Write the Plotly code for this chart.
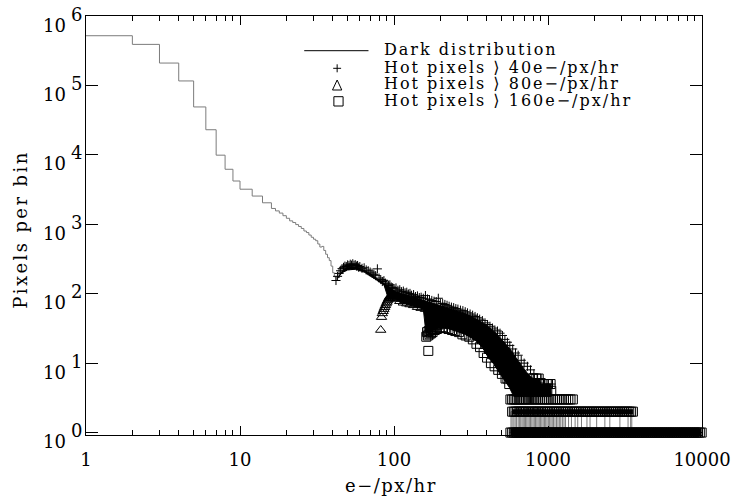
import plotly.graph_objects as go

# ---------------- data ----------------
# Dark distribution histogram: left bin edges and counts per bin
dark_x = [1, 2, 3, 4, 5, 6, 7, 8, 9, 10, 12, 14, 16, 17, 18, 19, 20, 21, 22, 23, 24,
          25, 26, 27, 28, 29, 30, 31, 32, 33, 34, 35, 36, 37, 38, 39, 40, 41, 42]
dark_counts = [5.2e5, 3.9e5, 2.1e5, 1.16e5, 4.9e4, 2.3e4, 9.9e3, 6.2e3, 4.2e3, 3.2e3,
               2.55e3, 2.04e3, 1690, 1560, 1450, 1330, 1220, 1120, 1060, 990, 930,
               870, 800, 760, 700, 650, 610, 580, 520, 470, 480, 420, 370, 330, 300,
               250, 200, 175, 155]

# Dark distribution, sparse high tail (counts jumping between 1 and 2)
dark_tail_x = [560, 575, 585, 600, 612, 625, 640, 652, 665, 678, 690, 702, 715, 728, 742,
               756, 770, 785, 800, 815, 830, 846, 862, 878, 895, 912, 930, 948, 966, 985,
               1005, 1025, 1045, 1065, 1085, 1110, 1135, 1160, 1185, 1210, 1240, 1270,
               1300, 1360, 1420, 1500, 1560, 1650, 1790, 1875, 2070, 2340, 2520, 2930,
               3310, 3440, 3500]
dark_tail_y = [1, 2, 1, 2, 1, 2, 1, 2, 1, 2, 1, 2, 1, 2, 1, 2, 1, 2, 1, 2, 1, 2, 1, 2, 1,
               2, 1, 2, 1, 2, 1, 2, 1, 2, 1, 2, 1, 2, 1, 2, 1, 2, 1, 2, 1, 2, 1, 2, 1, 2,
               1, 2, 1, 2, 1, 2, 1]

# Hot pixels > 40 e-/px/hr
h40_x = [42, 43, 44, 45, 46, 47, 48, 49, 50, 51, 52, 53, 54, 55, 56, 57, 58, 59, 60,
         62, 64, 66, 68, 70, 72, 74, 76, 78, 80, 82, 84, 86, 88, 90, 92, 94, 96, 98, 100,
         103, 106, 109, 112, 115, 118, 121, 124, 127, 130,
         134, 138, 142, 146, 150, 155, 160, 165, 170, 176, 182, 188, 194, 200,
         207, 214, 221, 228, 236, 244, 252, 260, 270, 280, 290, 300,
         312, 324, 336, 348, 360, 375, 390, 405, 420,
         436, 452, 470, 488, 506, 525, 545, 565, 590, 615, 640, 670, 700, 735, 770,
         810, 850, 900, 950, 1000, 1050]
h40_y = [155, 178, 196, 214, 230, 240, 250, 246, 260, 254, 266, 258, 270, 256, 262, 250,
         255, 240, 246,
         232, 236, 220, 214, 205, 198, 190, 182, 228, 168, 160, 150, 154, 142, 138, 131,
         134, 125, 122, 118,
         121, 112, 114, 107, 109, 103, 105, 99, 101, 95,
         97, 91, 93, 88, 89, 86, 94, 84, 82, 80, 78, 77, 86, 73,
         72, 70, 68, 66, 64, 63, 61, 60, 58, 57, 55, 53,
         51, 49, 47, 45, 43, 41, 38, 36, 34,
         32, 30, 29, 27, 25, 22, 20, 18, 16, 14, 13, 11, 10, 9, 8, 7, 6, 6, 5, 5, 5]

# Hot pixels > 80 e-/px/hr
h80_x = [82, 83, 84, 85, 86, 87, 88, 89, 90, 91, 92, 93, 94, 95, 96, 98, 100,
         103, 106, 109, 112, 115, 118, 121, 124, 127, 130,
         134, 138, 142, 146, 150, 155, 160, 165, 170, 176, 182, 188, 194, 200,
         210, 220, 230, 240, 250, 262, 275, 288, 300, 315, 330, 345, 360,
         380, 400, 420, 440, 460, 480, 500, 520, 540, 560,
         585, 610, 640, 670, 700, 740, 780, 830]
h80_y = [30, 46, 52, 56, 60, 64, 68, 72, 76, 80, 84, 88, 92, 86, 94, 88, 92,
         84, 88, 78, 84, 74, 80, 72, 78, 70, 76,
         68, 72, 64, 70, 62, 68, 60, 64, 58, 62, 56, 59, 54, 56,
         52, 53, 49, 50, 46, 46, 43, 42, 39, 38, 35, 33, 31,
         28, 26, 23, 21, 19, 17, 15, 13, 12, 10,
         9, 8, 7, 6, 5, 5, 4, 4]

# Hot pixels > 160 e-/px/hr
h160_x = [162, 164, 166, 167, 168, 170, 172, 174, 176, 178,
          181, 184, 187, 190, 194, 198, 202, 206, 210, 215,
          220, 226, 232, 238, 244, 250, 257, 264, 271, 278,
          285, 292, 300, 308, 316, 325, 334, 343, 352, 362,
          372, 382, 392, 402, 414, 426, 438, 450, 462, 475,
          488, 502, 516, 530, 545, 560]
h160_y = [24, 28, 25, 15, 29, 26, 30, 27, 31, 28,
          33, 30, 35, 31, 36, 32, 38, 33, 37, 32,
          38, 31, 37, 30, 36, 29, 35, 28, 34, 26,
          32, 25, 31, 24, 29, 22, 27, 19, 25, 17,
          22, 14, 19, 12, 16, 10, 14, 9, 12, 8,
          10, 7, 8, 6, 6, 5]

# Envelope of the dense cloud of overlapping hot-pixel markers (solid black band)
band_top_x = [43, 46, 50, 54, 58, 64, 70, 76, 82, 88, 94, 100, 110, 120, 135, 150, 170,
              190, 210, 240, 270, 300, 340, 380, 420, 460, 500, 540, 580, 620, 660, 700,
              740, 800, 870, 900, 1040, 1050]
band_top_y = [165, 210, 240, 245, 235, 218, 195, 172, 152, 134, 122, 110, 102, 96, 88,
              82, 76, 71, 66, 60, 55, 50, 43, 38, 32, 27, 22, 18, 15, 12, 10, 8.5, 7, 6,
              6, 5, 5, 3.3]
band_bot_x = [43, 46, 50, 56, 64, 72, 80, 86, 92, 100, 110, 125, 140, 155, 161, 170, 180,
              200, 230, 260, 290, 320, 350, 380, 410, 440, 470, 500, 530, 560, 600, 1050]
band_bot_y = [170, 200, 220, 225, 205, 170, 150, 135, 84, 86, 76, 70, 64, 60, 28, 27, 30,
              33, 31, 28, 26, 23, 20, 16, 12, 10, 8, 6.5, 5.5, 4.5, 3.3, 3.3]

# sparse tail of the hot-pixel histograms: bins holding 6, 5, 4, 3, 2 and 1 pixels
tail6_x = [760, 800, 840, 870]
tail5_x = [700, 760, 820, 880, 940, 1000, 1040]
tail4_x = [640, 690, 740, 790, 840, 890, 940, 990, 1050]
tail3_x = [570, 585, 600, 615, 630, 645, 660, 680, 700, 720, 740, 760, 785, 810, 835,
           860, 890, 920, 950, 980, 1010, 1045, 1080, 1115, 1150, 1190, 1230, 1270,
           1310, 1355, 1400, 1450]
tail1_x = [570, 585, 600, 615, 630, 645, 660, 675, 690, 705, 720, 740, 760, 780, 800,
           820, 840, 860, 880, 905, 930, 955, 980, 1005, 1030, 1060, 1090, 1120, 1150,
           1180, 1210, 1245, 1280, 1315, 1350, 1390, 1430, 1470, 1510, 1550, 1595, 1640,
           1685, 1730, 1780, 1830, 1880, 1935, 1990, 2045, 2100, 2160, 2220, 2285, 2350,
           2415, 2485, 2555, 2625, 2700, 2775, 2855, 2935, 3015, 3100, 3190, 3280, 3370,
           3465, 3560, 3660, 3765, 3870, 3980, 4090, 4205, 4325, 4445, 4570, 4700, 4830,
           4970, 5110, 5250, 5400, 5550, 5710, 5870, 6030, 6200, 6380, 6560, 6740, 6930,
           7130, 7330, 7530, 7750, 7960, 8190, 8420, 8650, 8900, 9150, 9410, 9680, 9950]
tail2_range = (580, 3600)
tail2_x = [v for v in tail1_x if tail2_range[0] <= v <= tail2_range[1]]

x_ticks = [1, 10, 100, 1000, 10000]
x_ticktext = ["1", "10", "100", "1000", "10000"]
y_exponents = [0, 1, 2, 3, 4, 5, 6]
minor_x = [m * d for d in (1, 10, 100, 1000) for m in range(2, 10)]

legend_labels = ["Dark distribution", "Hot pixels ⟩ 40e−/px/hr",
                 "Hot pixels ⟩ 80e−/px/hr", "Hot pixels ⟩ 160e−/px/hr"]
x_title = "e−/px/hr"
y_title = "Pixels per bin"

# ---------------- figure ----------------
FONT = "DejaVu Serif"
W, H = 743, 496
ML, MR, MT, MB = 86, 34, 16, 61
PW, PH = W - ML - MR, H - MT - MB


def pxx(p):
    return (p - ML) / PW


def pxy(p):
    return (H - MB - p) / PH


def spaced(t, sp):
    return f'<span style="letter-spacing:{sp}px">{t}</span>'


GRAY = "#7c7c7c"
fig = go.Figure()
fig.add_trace(go.Scatter(x=dark_x, y=dark_counts, mode="lines", line_shape="hv",
                         line=dict(color=GRAY, width=1), hoverinfo="skip"))
fig.add_trace(go.Scatter(x=dark_tail_x, y=dark_tail_y, mode="lines", line_shape="hv",
                         line=dict(color=GRAY, width=1), hoverinfo="skip"))

# dense overlapping markers rendered as a solid band
fig.add_trace(go.Scatter(x=band_top_x + band_bot_x[::-1],
                         y=band_top_y + band_bot_y[::-1],
                         mode="lines", fill="toself", fillcolor="black",
                         line=dict(color="black", width=1), hoverinfo="skip"))
# dense rows at 1 and 2 pixels per bin
fig.add_trace(go.Scatter(x=[tail1_x[0], tail1_x[-1]], y=[1, 1], mode="lines",
                         cliponaxis=False, line=dict(color="black", width=7),
                         hoverinfo="skip"))
fig.add_trace(go.Scatter(x=[tail2_x[0], tail2_x[-1]], y=[2, 2], mode="lines",
                         line=dict(color="black", width=5), hoverinfo="skip"))

sq_x = (h160_x + tail6_x + tail5_x + tail4_x + tail3_x + tail2_x + tail1_x)
sq_y = (h160_y + [6] * len(tail6_x) + [5] * len(tail5_x) + [4] * len(tail4_x)
        + [3] * len(tail3_x) + [2] * len(tail2_x) + [1] * len(tail1_x))

fig.add_trace(go.Scatter(x=h40_x, y=h40_y, mode="markers", cliponaxis=False,
                         marker=dict(symbol="cross-thin-open", size=6.5, color="black",
                                     line=dict(color="black", width=1))))
fig.add_trace(go.Scatter(x=h80_x, y=h80_y, mode="markers", cliponaxis=False,
                         marker=dict(symbol="triangle-up-open", size=9, color="black",
                                     line=dict(color="black", width=1))))
fig.add_trace(go.Scatter(x=sq_x, y=sq_y, mode="markers", cliponaxis=False,
                         marker=dict(symbol="square-open", size=9, color="black",
                                     line=dict(color="black", width=1))))

# ---- legend drawn like the original (IDL style) ----
shapes = []
shapes.append(dict(type="line", xref="paper", yref="paper",
                   x0=pxx(306.7), x1=pxx(371.7), y0=pxy(50.7), y1=pxy(50.7),
                   line=dict(color="black", width=1)))
cx, cy = 340, 68.3
shapes.append(dict(type="path", xref="paper", yref="paper",
                   path=f"M{pxx(cx-4)},{pxy(cy)} L{pxx(cx+4)},{pxy(cy)} "
                        f"M{pxx(cx)},{pxy(cy-4)} L{pxx(cx)},{pxy(cy+4)}",
                   line=dict(color="black", width=1)))
cx, cy = 340, 85
shapes.append(dict(type="path", xref="paper", yref="paper",
                   path=f"M{pxx(cx-4.7)},{pxy(cy+5)} L{pxx(cx+4.7)},{pxy(cy+5)} "
                        f"L{pxx(cx)},{pxy(cy-5)} Z",
                   line=dict(color="black", width=1)))
shapes.append(dict(type="rect", xref="paper", yref="paper",
                   x0=pxx(336.7), x1=pxx(346), y0=pxy(106), y1=pxy(96.7),
                   line=dict(color="black", width=1)))

annotations = []
for lab, yc in zip(legend_labels, [49.5, 67.2, 83.8, 100.5]):
    annotations.append(dict(text=spaced(lab, 2.0), xref="paper", yref="paper",
                            x=pxx(385), y=pxy(yc), xanchor="left", yanchor="middle",
                            showarrow=False,
                            font=dict(family=FONT, size=16, color="black")))
annotations.append(dict(text=spaced(x_title, 1.5), xref="paper", yref="paper",
                        x=pxx(394), y=pxy(485), xanchor="center", yanchor="middle",
                        showarrow=False,
                        font=dict(family=FONT, size=18, color="black")))
annotations.append(dict(text=spaced(y_title, 2.4), xref="paper", yref="paper",
                        x=pxx(20), y=pxy(230), xanchor="center", yanchor="middle",
                        textangle=-90, showarrow=False,
                        font=dict(family=FONT, size=18, color="black")))
# y tick labels "10" with a full-size raised exponent (IDL style)
for k in y_exponents:
    annotations.append(dict(text="10", xref="paper", yref="y", x=pxx(67.5), y=k,
                            xanchor="right", yanchor="middle", yshift=-9,
                            showarrow=False,
                            font=dict(family=FONT, size=18, color="black")))
    annotations.append(dict(text=str(k), xref="paper", yref="y", x=pxx(68.5), y=k,
                            xanchor="left", yanchor="middle", yshift=2,
                            showarrow=False,
                            font=dict(family=FONT, size=18, color="black")))

fig.update_layout(
    width=W, height=H,
    margin=dict(l=ML, r=MR, t=MT, b=MB, pad=0),
    paper_bgcolor="white", plot_bgcolor="white",
    font=dict(family=FONT, size=18, color="black"),
    shapes=shapes, annotations=annotations, showlegend=False,
)
fig.update_xaxes(type="log", range=[0, 4], tickmode="array", tickvals=x_ticks,
                 ticktext=x_ticktext, ticks="inside", ticklen=9, tickwidth=1,
                 tickcolor="black", showline=True, linecolor="black", linewidth=1,
                 mirror="allticks", showgrid=False, zeroline=False,
                 ticklabelstandoff=8,
                 minor=dict(tickmode="array", tickvals=minor_x, ticks="inside",
                            ticklen=5, tickwidth=1, tickcolor="black",
                            showgrid=False),
                 tickfont=dict(family=FONT, size=18, color="black"))
fig.update_yaxes(type="log", range=[-0.035, 6], tickmode="array",
                 tickvals=[10 ** k for k in y_exponents], showticklabels=False,
                 ticks="inside", ticklen=12, tickwidth=1,
                 tickcolor="black", showline=True, linecolor="black", linewidth=1,
                 mirror="allticks", showgrid=False, zeroline=False)

fig.write_html("out.html",
               config={"displayModeBar": False, "staticPlot": True},
               post_script="document.body.style.margin='0px';"
                           "document.body.style.overflow='hidden';")
